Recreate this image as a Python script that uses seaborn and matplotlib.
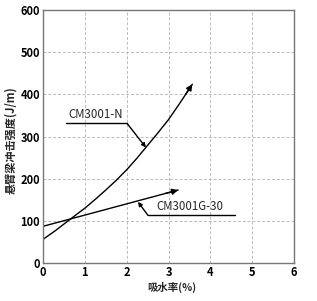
import matplotlib
matplotlib.use("Agg")
import matplotlib.pyplot as plt
import seaborn as sns
import pandas as pd

sns.set_theme(style="white")
plt.rcParams['font.family'] = ['Noto Sans CJK SC', 'DejaVu Sans']

# data
n_x = [0.0, 0.3, 0.64, 1.0, 1.25, 1.5, 1.75, 2.0, 2.25, 2.5, 2.75, 3.0, 3.25, 3.57]
n_y = [56, 77, 103, 130, 151, 173, 196, 221, 249, 279, 309, 340, 376, 424]
g_x = [0.0, 3.23]
g_y = [87, 173]
x_ticks = [0, 1, 2, 3, 4, 5, 6]
y_ticks = [0, 100, 200, 300, 400, 500, 600]
label_n = "CM3001-N"
label_g = "CM3001G-30"
xlabel = "吸水率(%)"
ylabel = "悬臂梁冲击强度(J/m)"

df = pd.concat([
    pd.DataFrame({"x": n_x, "y": n_y, "s": label_n}),
    pd.DataFrame({"x": g_x, "y": g_y, "s": label_g}),
])

fig = plt.figure(figsize=(3.17, 3.01), dpi=100)
ax = fig.add_axes([43/317, 1-263/301, (294-43)/317, (263-10)/301])
sns.lineplot(data=df, x="x", y="y", hue="s", palette=["black", "black"],
             legend=False, ax=ax, linewidth=1.0, sort=False)
ax.set_xlabel("")
ax.set_ylabel("")

ax.set_xlim(0, 6)
ax.set_ylim(0, 600)
ax.set_xticks(x_ticks)
ax.set_yticks(y_ticks)
ax.grid(True, color="#bbbbbb", linestyle=(0, (3, 2)), linewidth=0.7)
for s in ax.spines.values():
    s.set_color("#777777")
    s.set_linewidth(1.0)
ax.tick_params(axis="both", length=0, labelsize=8, pad=2, colors="black")
for t in ax.get_xticklabels() + ax.get_yticklabels():
    t.set_fontweight("bold")

arrow_big = dict(arrowstyle="-|>", color="black", lw=1.0, mutation_scale=9,
                 shrinkA=0, shrinkB=0)
arrow_small = dict(arrowstyle="-|>", color="black", lw=1.0, mutation_scale=6,
                   shrinkA=0, shrinkB=0)

# end arrowheads
ax.annotate("", xy=(n_x[-1], n_y[-1]),
            xytext=(n_x[-2] + 0.5*(n_x[-1]-n_x[-2]), n_y[-2] + 0.5*(n_y[-1]-n_y[-2])),
            arrowprops=arrow_big)
ax.annotate("", xy=(g_x[-1], g_y[-1]), xytext=(g_x[-1]-0.3, g_y[-1]-8.0),
            arrowprops=arrow_big)

# callouts
ax.plot([0.55, 2.01], [331, 331], color="black", lw=1.0)
ax.annotate("", xy=(2.46, 274), xytext=(2.01, 331), arrowprops=arrow_small)
ax.text(0.6, 337, label_n, fontsize=8.3, ha="left", va="bottom")

ax.plot([2.51, 4.59], [113, 113], color="black", lw=1.0)
ax.annotate("", xy=(2.27, 145), xytext=(2.51, 113), arrowprops=arrow_small)
ax.text(2.72, 118, label_g, fontsize=8.3, ha="left", va="bottom")

fig.text(172/317, 1-287/301, xlabel, fontsize=7.5, fontweight="bold",
         ha="center", va="center")
fig.text(11/317, 1-140/301, ylabel, fontsize=8, fontweight="bold",
         rotation=90, ha="center", va="center")

fig.savefig("out.png", dpi=100)
